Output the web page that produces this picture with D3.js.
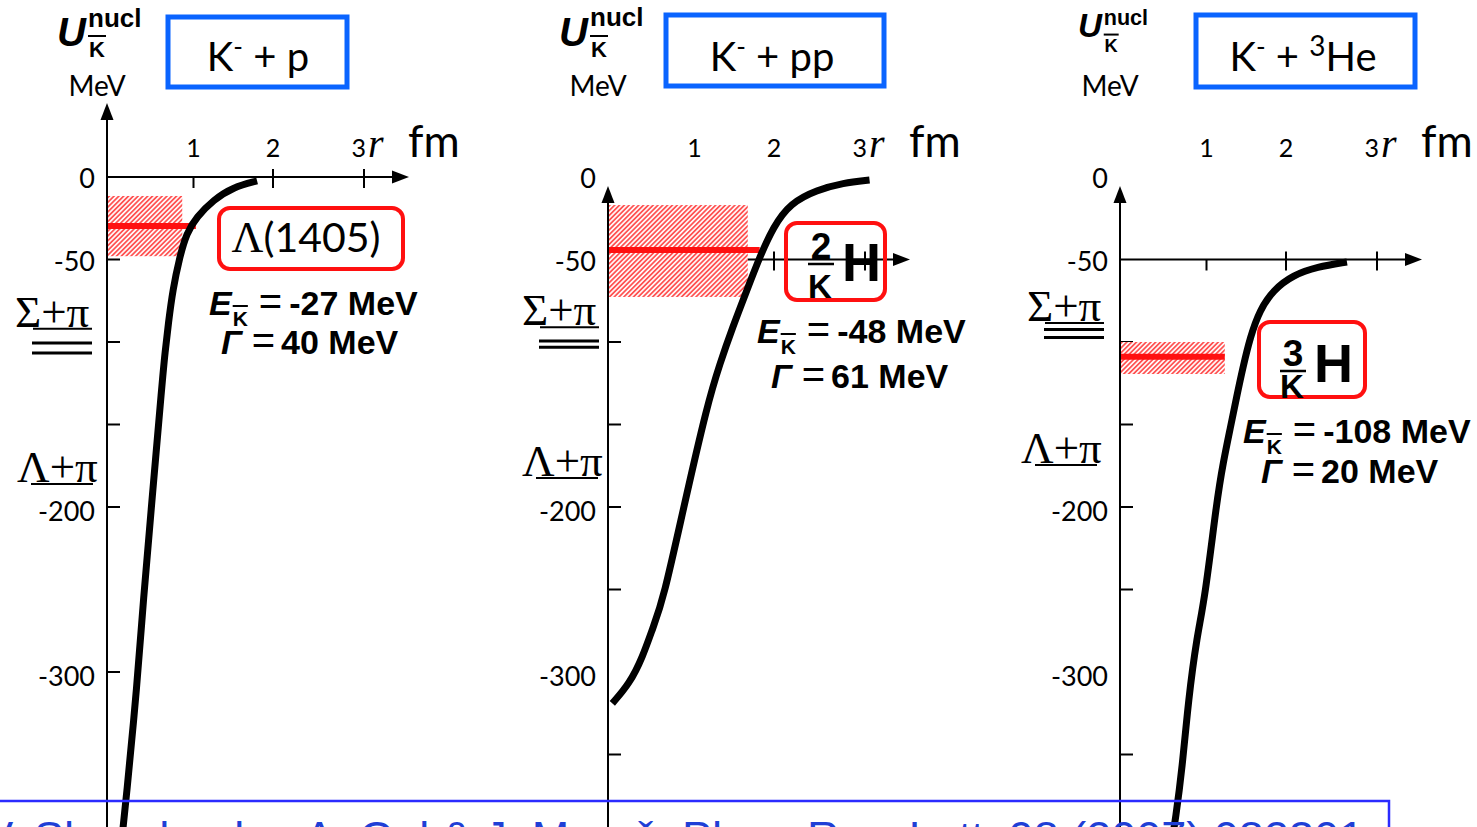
<!DOCTYPE html>
<html>
<head>
<meta charset="utf-8">
<script src="https://cdn.jsdelivr.net/npm/d3@7"></script>
<style>
  body { margin: 0; background: #fff; }
  svg { display: block; }
</style>
</head>
<body>
<div id="chart"></div>
<script>
// Potential curves, [r in fm, U in MeV]
const curveKp = [
  [1.80, -2.4], [1.50, -6.1], [1.25, -13.9], [1.04, -24.2], [0.92, -33.9],
  [0.84, -48.5], [0.76, -68.5], [0.71, -88.5], [0.67, -106.7], [0.64, -123],
  [0.52, -196], [0.42, -256], [0.35, -307], [0.22, -378], [0.17, -402]
];
const curveKpp = [
  [0.05, -319], [0.25, -307], [0.40, -291], [0.52, -273], [0.64, -256],
  [0.88, -199], [1.16, -138], [1.32, -113], [1.48, -91], [1.66, -68.5],
  [1.82, -48.5], [1.99, -30.3], [2.18, -15.8], [2.47, -7.9], [2.76, -3.6], [3.05, -1.8]
];
const curveK3He = [
  [2.67, -51.5], [2.34, -54.5], [2.08, -59.4], [1.84, -68.5], [1.67, -80.6],
  [1.55, -97], [1.46, -115], [1.38, -133], [1.30, -152], [1.21, -173],
  [1.13, -196], [0.98, -256], [0.89, -278], [0.79, -317], [0.72, -358],
  [0.64, -390], [0.60, -402]
];
const curves = [curveKp, curveKpp, curveK3He];

// systems and bound states
const targets = ['p', 'pp', 'He'];
const targetMass = ['', '', '3'];
const stateMass = [null, 2, 3];
const energyE = [-27, -48, -108];
const widthG = [40, 61, 20];

// bands as drawn (MeV) and how far they reach along r (fm)
const bandTop = [-11.5, -17, -100];
const bandBottom = [-48, -72.7, -119.4];
const bandLevel = [-29.7, -44.2, -109];
const bandR = [0.87, 1.67, 1.23];
const levelR = [1.03, 1.82, 1.23];

// axes
const axisLevel = [0, -50, -50];
const rTicks = [1, 2, 3];
const uTicks = [
  [-50, -100, -150, -200, -300],
  [-100, -150, -200, -250, -350],
  [-100, -150, -200, -250, -350]
];
const uLabels = [0, -50, -200, -300];

// decay thresholds marked on the left (MeV)
const sigmaPiU = [-92, -91, -88.5];
const sigmaPiBars = [[-100.6, -106.7], [-99.4, -103.2], [-92.4, -97.2]];
const lambdaPiU = [-186, -182.4, -174.5];

const reference = 'N. V. Shevchenko, A. Gal & J. Mareš, Phys. Rev. Lett. 98 (2007) 082301';

// ---- layout ----
const W = 1477, H = 827;
const originX = [107, 608, 1120];
const yTip = [103, 186, 186];
const rOffsets = [0, 86.5, 166, 257];
const blueBox = [[168, 17, 179, 70], [666, 15, 218, 71], [1196, 15, 219, 72]];
const blueText = [258, 772, 1303];
const headerX = [57, 559, 1078];
const headerS = [1, 1, 0.83];
const headerU = [46, 46, 37];
const headerNucl = [27, 26, 25];
const headerK = [57, 57, 52];
const mevX = [97, 598, 1110];
const threshX = [15, 522, 1027];
const lambdaX = [17, 522, 1021];
const eX = [209, 757, 1243], eY = [315, 343, 443];
const gX = [221, 771, 1261], gY = [354, 388, 483];

const SANS = "'Liberation Sans', Arial, sans-serif";
const red = '#ff1010';

const svg = d3.select('#chart').append('svg')
  .attr('width', W).attr('height', H)
  .style('font-family', 'Lato, sans-serif');

svg.append('defs').append('pattern')
  .attr('id', 'hatch')
  .attr('patternUnits', 'userSpaceOnUse')
  .attr('width', 3.4).attr('height', 3.4)
  .attr('patternTransform', 'rotate(45)')
  .append('line')
  .attr('x1', 1.7).attr('x2', 1.7).attr('y1', 0).attr('y2', 3.4)
  .attr('stroke', '#ff5252').attr('stroke-width', 1.8);

const y = d3.scaleLinear().domain([0, -350]).range([177, 754.5]);

// draws a row of text pieces one after another
function seq(g, x0, yb, pieces) {
  let cx = x0;
  pieces.forEach(p => {
    if (p.gap) { cx += p.gap; return; }
    const t = g.append('text')
      .attr('x', cx).attr('y', yb + (p.dy || 0))
      .style('font', p.font)
      .text(p.t);
    const w = t.node().getComputedTextLength();
    if (p.over !== undefined) {
      g.append('line')
        .attr('x1', cx).attr('x2', cx + w)
        .attr('y1', yb + p.over).attr('y2', yb + p.over)
        .attr('stroke', '#000').attr('stroke-width', p.ow || 2);
    }
    cx += w;
  });
}

d3.range(3).forEach(i => {
  const ox = originX[i];
  const x = d3.scaleLinear().domain([0, 1, 2, 3]).range(rOffsets.map(d => ox + d));
  const g = svg.append('g');

  // y axis
  g.append('line')
    .attr('x1', ox).attr('x2', ox).attr('y1', H).attr('y2', yTip[i] + 12)
    .attr('stroke', '#000').attr('stroke-width', 2);
  g.append('path')
    .attr('d', `M${ox},${yTip[i]} L${ox - 6.5},${yTip[i] + 17} L${ox + 6.5},${yTip[i] + 17} Z`);
  g.selectAll('.ytick').data(uTicks[i]).join('line')
    .attr('x1', ox).attr('x2', ox + 13)
    .attr('y1', d => y(d)).attr('y2', d => y(d))
    .attr('stroke', '#000').attr('stroke-width', 2);
  g.selectAll('.ylab').data(uLabels).join('text')
    .attr('x', ox - 12).attr('y', d => y(d) + 11 + (d < -100 ? 3 : 0))
    .attr('text-anchor', 'end')
    .style('font-size', '27px')
    .text(d => d);

  // r axis
  const ya = y(axisLevel[i]);
  g.append('line')
    .attr('x1', ox).attr('x2', ox + 288).attr('y1', ya).attr('y2', ya)
    .attr('stroke', '#000').attr('stroke-width', 2);
  g.append('path')
    .attr('d', `M${ox + 302},${ya} L${ox + 285},${ya - 6.5} L${ox + 285},${ya + 6.5} Z`);
  g.selectAll('.xtick').data(rTicks).join('line')
    .attr('x1', d => x(d)).attr('x2', d => x(d))
    .attr('y1', d => ya - (d === 1 ? 0 : 8)).attr('y2', ya + 11)
    .attr('stroke', '#000').attr('stroke-width', 2);
  const yl = y(0) - 20;
  g.selectAll('.xlab').data(rTicks).join('text')
    .attr('x', d => d === 3 ? x(d) + 2 : x(d))
    .attr('y', yl)
    .attr('text-anchor', d => d === 3 ? 'end' : 'middle')
    .style('font-size', '25px')
    .text(d => d);
  g.append('text')
    .attr('x', x(3) + 4).attr('y', yl)
    .style('font', "italic 40px 'Liberation Serif', serif")
    .text('r');
  g.append('text')
    .attr('x', ox + 301).attr('y', yl)
    .style('font-size', '44px')
    .text('fm');

  // header U^nucl_K / MeV
  const s = headerS[i], hx = headerX[i];
  g.append('text').attr('x', hx).attr('y', headerU[i])
    .style('font', `italic bold ${40 * s}px ${SANS}`).text('U');
  g.append('text').attr('x', hx + 31 * s).attr('y', headerNucl[i])
    .style('font', `bold ${26 * s}px ${SANS}`).text('nucl');
  g.append('text').attr('x', hx + 32 * s).attr('y', headerK[i])
    .style('font', `bold ${22 * s}px ${SANS}`).text('K');
  g.append('line')
    .attr('x1', hx + 31 * s).attr('x2', hx + 49 * s)
    .attr('y1', headerK[i] - 21 * s).attr('y2', headerK[i] - 21 * s)
    .attr('stroke', '#000').attr('stroke-width', 2);
  g.append('text').attr('x', mevX[i]).attr('y', 96)
    .attr('text-anchor', 'middle').style('font-size', '28px').text('MeV');

  // system box
  const bb = blueBox[i];
  g.append('rect')
    .attr('x', bb[0]).attr('y', bb[1]).attr('width', bb[2]).attr('height', bb[3])
    .attr('fill', 'none').attr('stroke', '#0a64ff').attr('stroke-width', 5);
  const bt = g.append('text').attr('x', blueText[i]).attr('y', 71)
    .attr('text-anchor', 'middle').style('font-size', '40px');
  bt.append('tspan').text('K');
  bt.append('tspan').attr('dy', -15).style('font-size', '26px').text('-');
  bt.append('tspan').attr('dy', 15).text(' + ');
  if (targetMass[i]) {
    bt.append('tspan').attr('dy', -15).style('font-size', '28px').text(targetMass[i]);
    bt.append('tspan').attr('dy', 15).text(targets[i]);
  } else {
    bt.append('tspan').text(targets[i]);
  }

  // thresholds
  g.append('text').attr('x', threshX[i]).attr('y', y(sigmaPiU[i]) - 2)
    .style('font', "45px 'Liberation Serif', serif").text('Σ+π');
  g.append('line')
    .attr('x1', threshX[i] + 18).attr('x2', threshX[i] + 77)
    .attr('y1', y(sigmaPiU[i])).attr('y2', y(sigmaPiU[i]))
    .attr('stroke', '#000').attr('stroke-width', 2);
  g.selectAll('.sbar').data(sigmaPiBars[i]).join('line')
    .attr('x1', threshX[i] + 17).attr('x2', threshX[i] + 77)
    .attr('y1', d => y(d)).attr('y2', d => y(d))
    .attr('stroke', '#000').attr('stroke-width', 3);
  g.append('text').attr('x', lambdaX[i]).attr('y', y(lambdaPiU[i]) - 2)
    .style('font', "45px 'Liberation Serif', serif").text('Λ+π');
  g.append('line')
    .attr('x1', lambdaX[i] + 14).attr('x2', lambdaX[i] + 76)
    .attr('y1', y(lambdaPiU[i])).attr('y2', y(lambdaPiU[i]))
    .attr('stroke', '#000').attr('stroke-width', 2);

  // width band and level
  const bx = x(0) + 1, bw = x(bandR[i]) - x(0) - 1;
  const by = y(bandTop[i]), bh = y(bandBottom[i]) - y(bandTop[i]);
  g.append('rect').attr('x', bx).attr('y', by).attr('width', bw).attr('height', bh)
    .attr('fill', '#fff');
  g.append('rect').attr('x', bx).attr('y', by).attr('width', bw).attr('height', bh)
    .attr('fill', 'url(#hatch)');
  g.append('line')
    .attr('x1', bx).attr('x2', x(levelR[i]))
    .attr('y1', y(bandLevel[i])).attr('y2', y(bandLevel[i]))
    .attr('stroke', red).attr('stroke-width', 6);

  // potential
  const line = d3.line()
    .x(d => x(d[0])).y(d => y(d[1]))
    .curve(d3.curveBasis);
  g.append('path')
    .attr('d', line(curves[i]))
    .attr('fill', 'none').attr('stroke', '#000').attr('stroke-width', 7);

  // state label
  if (stateMass[i] === null) {
    g.append('rect').attr('x', 219).attr('y', 208).attr('width', 184).attr('height', 61)
      .attr('rx', 11).attr('fill', 'none').attr('stroke', red).attr('stroke-width', 4);
    const st = g.append('text').attr('x', 306).attr('y', 252)
      .attr('text-anchor', 'middle').style('font-size', '41px');
    st.append('tspan').style('font-family', "'Liberation Serif', serif").style('font-size', '44px').text('Λ');
    st.append('tspan').text('(1405)');
  } else {
    const lb = i === 1 ? [786, 223, 99, 77] : [1259, 322, 106, 75];
    const kx = i === 1 ? 808 : 1280, kb = i === 1 ? 298 : 398;
    const mb = i === 1 ? 259 : 366, hb = i === 1 ? 281 : 382;
    g.append('rect').attr('x', lb[0]).attr('y', lb[1]).attr('width', lb[2]).attr('height', lb[3])
      .attr('rx', 11).attr('fill', 'none').attr('stroke', red).attr('stroke-width', 4);
    g.append('text').attr('x', kx + 13).attr('y', mb).attr('text-anchor', 'middle')
      .style('font', `bold 37px ${SANS}`).text(stateMass[i]);
    g.append('line').attr('x1', kx).attr('x2', kx + 26)
      .attr('y1', mb + 5).attr('y2', mb + 5)
      .attr('stroke', '#000').attr('stroke-width', 2.5);
    g.append('text').attr('x', kx).attr('y', kb)
      .style('font', `bold 33px ${SANS}`).text('K');
    g.append('text').attr('x', kx + 34).attr('y', hb)
      .style('font', `bold 54px ${SANS}`).text('H');
  }

  // binding energy and width
  seq(g, eX[i], eY[i], [
    { t: 'E', font: `italic bold 34px ${SANS}` },
    { gap: 1 },
    { t: 'K', font: `bold 21px ${SANS}`, dy: 11, over: -9 },
    { gap: 11 },
    { t: '=', font: `40px ${SANS}` },
    { gap: 7 },
    { t: `${energyE[i]} MeV`, font: `bold 34px ${SANS}` }
  ]);
  seq(g, gX[i], gY[i], [
    { t: 'Γ', font: `italic bold 34px ${SANS}` },
    { gap: 10 },
    { t: '=', font: `40px ${SANS}` },
    { gap: 6 },
    { t: `${widthG[i]} MeV`, font: `bold 34px ${SANS}` }
  ]);
});

// reference box at the bottom
svg.append('path')
  .attr('d', `M0,801 H1389 V${H}`)
  .attr('fill', 'none').attr('stroke', '#2b2bff').attr('stroke-width', 2.5);
svg.append('text')
  .attr('x', 1364).attr('y', 853)
  .attr('text-anchor', 'end')
  .attr('fill', '#1f3fd6')
  .style('font', `45px ${SANS}`)
  .text(reference);
</script>
</body>
</html>
